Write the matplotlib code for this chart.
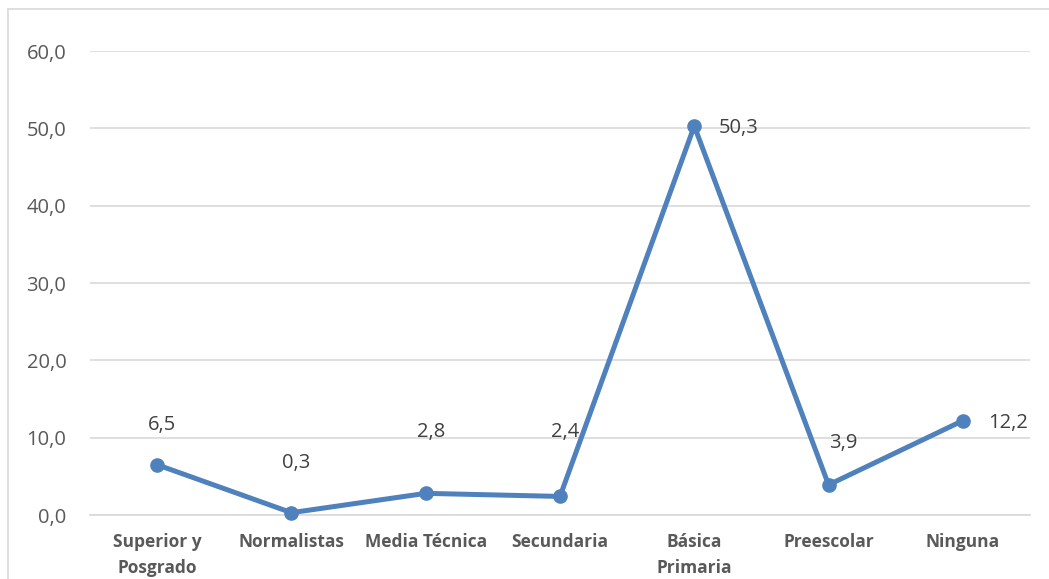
import matplotlib
matplotlib.use("Agg")
import matplotlib.pyplot as plt
from matplotlib.lines import Line2D

categories = ["Superior y\nPosgrado", "Normalistas", "Media Técnica", "Secundaria",
              "Básica\nPrimaria", "Preescolar", "Ninguna"]
values = [6.5, 0.3, 2.8, 2.4, 50.3, 3.9, 12.2]
value_labels = ["6,5", "0,3", "2,8", "2,4", "50,3", "3,9", "12,2"]
yticks = [0, 10, 20, 30, 40, 50, 60]
ytick_labels = ["0,0", "10,0", "20,0", "30,0", "40,0", "50,0", "60,0"]

# label offsets in pixels (dx, dy) and alignment
label_offsets = [(5, 40), (5, 50), (5, 61), (5, 64), (24, -2), (15, 42), (25, -2)]
label_ha = ["center", "center", "center", "center", "left", "center", "left"]

plt.rcParams['font.family'] = ['Open Sans', 'DejaVu Sans']
W, H = 1049, 579
fig = plt.figure(figsize=(W / 100, H / 100), dpi=100)
ax = fig.add_axes([90 / W, 1 - 515 / H, (1030 - 90) / W, (515 - 51) / H])

x = list(range(len(categories)))
line_color = "#4F81BD"
ax.plot(x, values, color=line_color, lw=3.6, marker="o", markersize=9.5,
        solid_capstyle="round", zorder=3, clip_on=False)

ax.set_xlim(-0.5, len(categories) - 0.5)
ax.set_ylim(0, 60)
ax.set_yticks(yticks)
ax.set_yticklabels(ytick_labels, fontsize=14.5, color="#595959")
ax.set_xticks(x)
ax.set_xticklabels(categories, fontsize=12.5, color="#595959", fontweight="bold",
                   linespacing=1.6)
ax.tick_params(axis="both", length=0)
ax.tick_params(axis="y", pad=17)
ax.tick_params(axis="x", pad=13)
for lbl in ax.get_xticklabels():
    lbl.set_verticalalignment("top")

ax.grid(axis="y", color="#D9D9D9", lw=1.2)
ax.set_axisbelow(True)
for s in ["top", "right", "left"]:
    ax.spines[s].set_visible(False)
ax.spines["bottom"].set_color("#D9D9D9")
ax.spines["bottom"].set_linewidth(1.2)

for xi, v, t, (dx, dy), ha in zip(x, values, value_labels, label_offsets, label_ha):
    ax.annotate(t, (xi, v), xytext=(dx * 0.72, dy * 0.72), textcoords="offset points",
                ha=ha, va="center", fontsize=14.5, color="#404040")

# chart border (top and left)
fig.add_artist(Line2D([8 / W, 8 / W], [0, 1 - 9 / H], transform=fig.transFigure,
                      color="#D9D9D9", lw=1.2))
fig.add_artist(Line2D([8 / W, 1], [1 - 9 / H, 1 - 9 / H], transform=fig.transFigure,
                      color="#D9D9D9", lw=1.2))

fig.savefig("out.png", dpi=100, facecolor="white")
